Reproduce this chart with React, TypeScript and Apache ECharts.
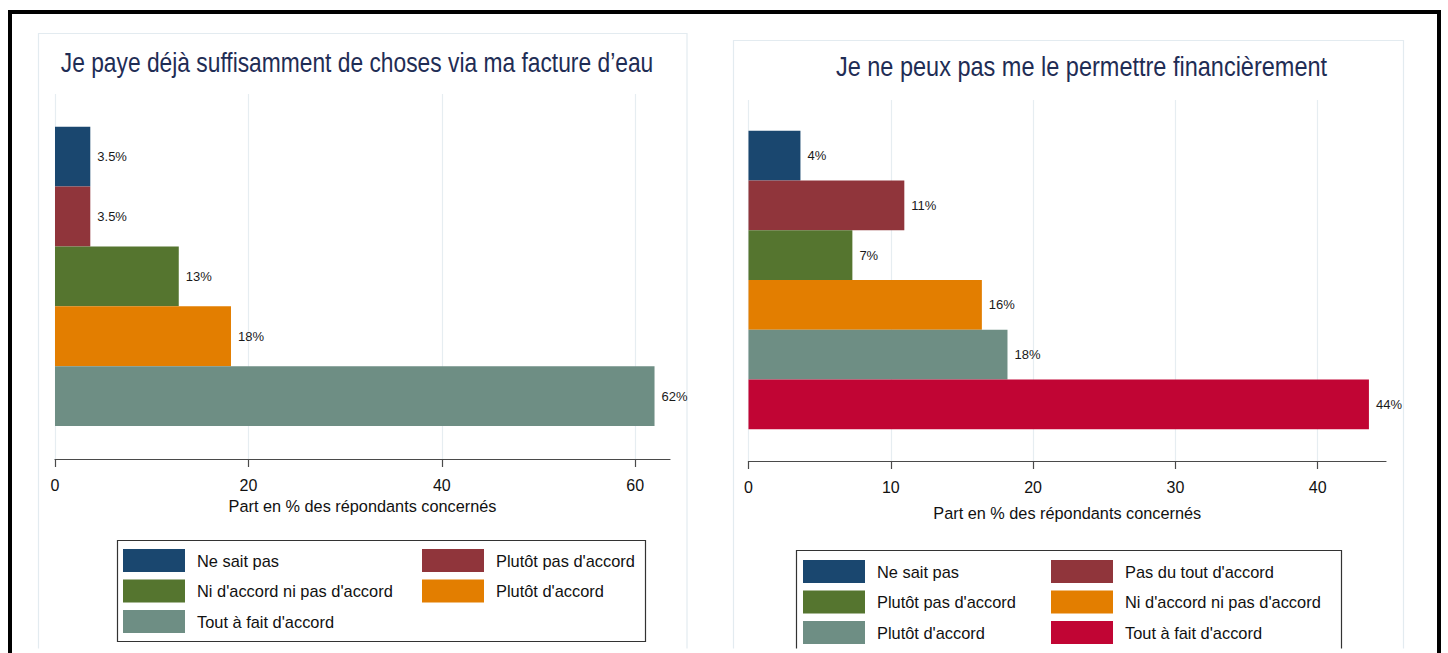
import React, { useEffect, useRef } from "react";
import * as echarts from "echarts";

const FONT = "'Liberation Sans', Arial, Helvetica, sans-serif";

// ---------- data ----------
const leftTitle = "Je paye déjà suffisamment de choses via ma facture d’eau";
const leftCategories = [
  "Ne sait pas",
  "Plutôt pas d'accord",
  "Ni d'accord ni pas d'accord",
  "Plutôt d'accord",
  "Tout à fait d'accord",
];
const leftValues = [3.65, 3.65, 12.8, 18.2, 62.0];
const leftLabels = ["3.5%", "3.5%", "13%", "18%", "62%"];
const leftTicks = [0, 20, 40, 60];
const leftAxisMax = 63.6;
const leftLegendCol1 = ["Ne sait pas", "Ni d'accord ni pas d'accord", "Tout à fait d'accord"];
const leftLegendCol2 = ["Plutôt pas d'accord", "Plutôt d'accord"];

const rightTitle = "Je ne peux pas me le permettre financièrement";
const rightCategories = [
  "Ne sait pas",
  "Pas du tout d'accord",
  "Plutôt pas d'accord",
  "Ni d'accord ni pas d'accord",
  "Plutôt d'accord",
  "Tout à fait d'accord",
];
const rightValues = [3.65, 10.95, 7.3, 16.4, 18.2, 43.6];
const rightLabels = ["4%", "11%", "7%", "16%", "18%", "44%"];
const rightTicks = [0, 10, 20, 30, 40];
const rightAxisMax = 44.8;
const rightLegendCol1 = ["Ne sait pas", "Plutôt pas d'accord", "Plutôt d'accord"];
const rightLegendCol2 = ["Pas du tout d'accord", "Ni d'accord ni pas d'accord", "Tout à fait d'accord"];

const axisTitle = "Part en % des répondants concernés";

// ---------- styles ----------
const leftColors = ["#1a476f", "#90353b", "#55752f", "#e37e00", "#6e8e84"];
const rightColors = ["#1a476f", "#90353b", "#55752f", "#e37e00", "#6e8e84", "#c10534"];

const leftLayout = {
  plotLeft: 55, plotRight: 670, gridTop: 94, axisY: 459,
  barTop: 126.7, barBottom: 426,
  titleX: 357, titleY: 62, titleScaleX: 0.8,
  panel: { x: 38.5, y: 33.5, w: 648.5 },
  legendBox: { x: 117.5, y: 540.5, w: 528, h: 101 },
  legendCols: [123, 422], legendTop: 549,
  labelMargin: 18, nameGap: 37,
};
const rightLayout = {
  plotLeft: 24.5, plotRight: 662, gridTop: 100, axisY: 461,
  barTop: 130.7, barBottom: 429.3,
  titleX: 357.5, titleY: 66, titleScaleX: 0.825,
  panel: { x: 9.5, y: 40.5, w: 670 },
  legendBox: { x: 72.5, y: 550.5, w: 545, h: 130 },
  legendCols: [79, 327], legendTop: 560,
  labelMargin: 18, nameGap: 44,
};

function buildOption(d: any, L: any) {
  const W = 724, H = 653;
  const gridRight = W - L.plotRight;
  const series = d.categories.map((name: string, i: number) => ({
    type: "bar",
    name,
    xAxisIndex: 1,
    yAxisIndex: 1,
    barWidth: "100%",
    barGap: "-100%",
    data: d.categories.map((_: string, j: number) => (j === i ? d.values[i] : null)),
    itemStyle: { color: d.colors[i] },
    label: {
      show: true,
      position: "right",
      distance: 7,
      formatter: () => d.labels[i],
      fontFamily: FONT,
      fontSize: 13,
      color: "#1a1a1a",
    },
  }));
  const legendBase = {
    orient: "vertical",
    top: L.legendTop,
    itemWidth: 62,
    itemHeight: 23,
    itemGap: 7.5,
    padding: 0,
    icon: "rect",
    selectedMode: false,
    textStyle: { fontFamily: FONT, fontSize: 16.4, color: "#111", padding: [0, 0, 0, 7] },
  };
  return {
    animation: false,
    backgroundColor: "#ffffff",
    grid: [
      { left: L.plotLeft, right: gridRight, top: L.gridTop, bottom: H - L.axisY },
      { left: L.plotLeft, right: gridRight, top: L.barTop, bottom: H - L.barBottom },
    ],
    xAxis: [
      {
        type: "value",
        gridIndex: 0,
        min: 0,
        max: d.axisMax,
        axisLine: { show: true, lineStyle: { color: "#4a4a4a", width: 1.2 } },
        axisTick: { show: true, customValues: d.ticks, length: 8, lineStyle: { color: "#4a4a4a", width: 1.2 } },
        axisLabel: {
          customValues: d.ticks,
          margin: L.labelMargin,
          fontFamily: FONT,
          fontSize: 16,
          color: "#111",
        },
        splitLine: { show: true, lineStyle: { color: "#e6edf1", width: 1.2 } },
        name: axisTitle,
        nameLocation: "middle",
        nameGap: L.nameGap,
        nameTextStyle: { fontFamily: FONT, fontSize: 16.3, color: "#111" },
      },
      { type: "value", gridIndex: 1, min: 0, max: d.axisMax, show: false },
    ],
    yAxis: [
      { type: "value", gridIndex: 0, show: false },
      { type: "category", gridIndex: 1, data: d.categories, inverse: true, show: false },
    ],
    legend: [
      { ...legendBase, left: L.legendCols[0], data: d.col1 },
      { ...legendBase, left: L.legendCols[1], data: d.col2 },
    ],
    series,
    graphic: [
      {
        type: "rect",
        z: -10,
        silent: true,
        shape: { x: L.panel.x, y: L.panel.y, width: L.panel.w, height: 700 },
        style: { fill: "none", stroke: "#e3ebf0", lineWidth: 1.2 },
      },
      {
        type: "rect",
        z: 10,
        silent: true,
        shape: { x: L.legendBox.x, y: L.legendBox.y, width: L.legendBox.w, height: L.legendBox.h },
        style: { fill: "none", stroke: "#333", lineWidth: 1.2 },
      },
      {
        type: "text",
        z: 10,
        x: L.titleX,
        y: L.titleY,
        scaleX: L.titleScaleX,
        style: {
          text: d.title,
          fontFamily: FONT,
          fontSize: 28.5,
          fill: "#1f2d55",
          align: "center",
          verticalAlign: "middle",
        },
      },
      {
        type: "rect",
        z: 20,
        silent: true,
        shape: { x: 0, y: 648.5, width: W, height: 10 },
        style: { fill: "#ffffff" },
      },
    ],
  };
}

function Panel({ d, L, left }: { d: any; L: any; left: number }) {
  const ref = useRef<HTMLDivElement>(null);
  useEffect(() => {
    const chart = echarts.init(ref.current!, null, { renderer: "svg" });
    chart.setOption(buildOption(d, L));
    return () => chart.dispose();
  }, []);
  return <div ref={ref} style={{ position: "absolute", left, top: 0, width: 724, height: 653 }} />;
}

export default function App() {
  const leftData = {
    title: leftTitle, categories: leftCategories, values: leftValues, labels: leftLabels,
    ticks: leftTicks, axisMax: leftAxisMax, colors: leftColors, col1: leftLegendCol1, col2: leftLegendCol2,
  };
  const rightData = {
    title: rightTitle, categories: rightCategories, values: rightValues, labels: rightLabels,
    ticks: rightTicks, axisMax: rightAxisMax, colors: rightColors, col1: rightLegendCol1, col2: rightLegendCol2,
  };
  return (
    <div style={{ position: "fixed", left: 0, top: 0, width: 1448, height: 653, background: "#fff", overflow: "hidden" }}>
      <Panel d={leftData} L={leftLayout} left={0} />
      <Panel d={rightData} L={rightLayout} left={724} />
      <div
        style={{
          position: "absolute",
          left: 8,
          top: 10,
          width: 1433,
          height: 800,
          border: "4px solid #000",
          boxSizing: "border-box",
          pointerEvents: "none",
        }}
      />
    </div>
  );
}
